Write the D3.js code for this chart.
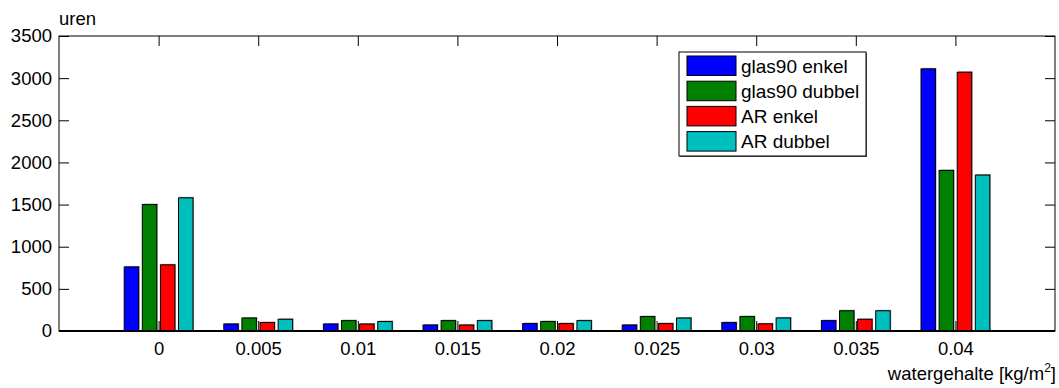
<!DOCTYPE html>
<html>
<head>
<meta charset="utf-8">
<script src="https://cdn.jsdelivr.net/npm/d3@7"></script>
<style>
  body { margin: 0; background: #fff; }
  svg { display: block; font-family: Arial, "Liberation Sans", sans-serif; }
</style>
</head>
<body>
<div id="chart"></div>
<script>
// watergehalte categories
const xValues = [0, 0.005, 0.01, 0.015, 0.02, 0.025, 0.03, 0.035, 0.04];
const xLabels = ["0", "0.005", "0.01", "0.015", "0.02", "0.025", "0.03", "0.035", "0.04"];

const seriesNames = ["glas90 enkel", "glas90 dubbel", "AR enkel", "AR dubbel"];
const glas90Enkel  = [760, 83, 83, 71, 88, 71, 100, 123, 3110];
const glas90Dubbel = [1500, 154, 123, 123, 112, 171, 171, 240, 1905];
const arEnkel      = [785, 100, 83, 71, 88, 88, 85, 139, 3070];
const arDubbel     = [1580, 139, 112, 123, 123, 154, 155, 240, 1850];
const colors = ["#0000ff", "#008000", "#ff0000", "#00bfbf"];
const yTicks = [0, 500, 1000, 1500, 2000, 2500, 3000, 3500];

const allSeries = [glas90Enkel, glas90Dubbel, arEnkel, arDubbel];

const width = 1059, height = 388;
const margin = {top: 36, right: 4, bottom: 57, left: 59};
const plotW = width - margin.left - margin.right;
const plotH = height - margin.top - margin.bottom;
const tickLen = 10;
const fontSize = 18.5;

const svg = d3.select("#chart")
    .append("svg")
    .attr("width", width)
    .attr("height", height);

const g = svg.append("g")
    .attr("transform", `translate(${margin.left},${margin.top})`);

const x = d3.scaleLinear().domain([-0.005, 0.045]).range([0, plotW]);
const y = d3.scaleLinear().domain([0, 3500]).range([plotH, 0]);

// grouped bars like matlab: group is ~0.727 of the spacing
const step = x(0.005) - x(0);
const groupW = step * 4 / 5.5;
const inner = d3.scaleBand()
    .domain(d3.range(seriesNames.length))
    .range([-groupW / 2, groupW / 2])
    .paddingInner(0.2)
    .paddingOuter(0.1);

// bars
const groups = g.selectAll(".grp")
    .data(xValues)
    .enter().append("g")
    .attr("class", "grp")
    .attr("transform", d => `translate(${x(d)},0)`);

groups.each(function(xv, i) {
    const grp = d3.select(this);
    allSeries.forEach((vals, s) => {
        // little grey shadow
        grp.append("rect")
            .attr("x", inner(s) + 1)
            .attr("y", y(vals[i]) - 1)
            .attr("width", inner.bandwidth())
            .attr("height", plotH - y(vals[i]) + 1)
            .attr("fill", "#a0a0a0");
        grp.append("rect")
            .attr("x", inner(s))
            .attr("y", y(vals[i]))
            .attr("width", inner.bandwidth())
            .attr("height", plotH - y(vals[i]))
            .attr("fill", colors[s])
            .attr("stroke", "#000")
            .attr("stroke-width", 1);
    });
});

// axes
const yLeft = d3.axisLeft(y).tickValues(yTicks).tickSize(-tickLen).tickPadding(7)
    .tickFormat(d3.format("d"));
const yRight = d3.axisRight(y).tickValues(yTicks).tickSize(-tickLen).tickFormat("");
const xBottom = d3.axisBottom(x).tickValues(xValues).tickSize(-tickLen).tickPadding(11)
    .tickFormat((d, i) => xLabels[i]);
const xTop = d3.axisTop(x).tickValues(xValues).tickSize(-tickLen).tickFormat("");

const axes = [
    g.append("g").call(yLeft),
    g.append("g").attr("transform", `translate(${plotW},0)`).call(yRight),
    g.append("g").attr("transform", `translate(0,${plotH})`).call(xBottom),
    g.append("g").call(xTop)
];
axes.forEach(a => {
    a.select(".domain").remove();
    a.selectAll(".tick line").attr("stroke", "#000");
    a.selectAll("text")
        .attr("fill", "#000")
        .style("font-size", fontSize + "px")
        .style("font-family", "Arial, 'Liberation Sans', sans-serif");
});

// box
g.append("rect")
    .attr("width", plotW)
    .attr("height", plotH)
    .attr("fill", "none")
    .attr("stroke", "#000")
    .attr("stroke-width", 1);

// bar baseline
g.append("line")
    .attr("x1", 0).attr("x2", plotW)
    .attr("y1", y(0)).attr("y2", y(0))
    .attr("stroke", "#000")
    .attr("stroke-width", 2);

// axis titles
svg.append("text")
    .attr("x", margin.left)
    .attr("y", 25)
    .style("font-size", "18.5px")
    .text("uren");

const xt = svg.append("text")
    .attr("x", width - 3)
    .attr("y", 380)
    .attr("text-anchor", "end")
    .style("font-size", "18.5px");
xt.append("tspan").text("watergehalte [kg/m");
xt.append("tspan").attr("dy", -8).style("font-size", "12px").text("2");
xt.append("tspan").attr("dy", 8).text("]");

// legend
const legend = svg.append("g").attr("transform", "translate(679,52)");
legend.append("rect")
    .attr("x", 1).attr("y", 1)
    .attr("width", 187).attr("height", 104)
    .attr("fill", "#606060");
legend.append("rect")
    .attr("width", 187).attr("height", 104)
    .attr("fill", "#fff")
    .attr("stroke", "#000");

const rowH = 25.2;
const item = legend.selectAll(".item")
    .data(seriesNames)
    .enter().append("g")
    .attr("transform", (d, i) => `translate(0,${4 + i * rowH})`);
item.append("rect")
    .attr("x", 8).attr("width", 49).attr("height", 19.5)
    .attr("fill", (d, i) => colors[i])
    .attr("stroke", "#000");
item.append("text")
    .attr("x", 62)
    .attr("y", 10)
    .attr("dy", "0.35em")
    .style("font-size", "19px")
    .text(d => d);
</script>
</body>
</html>
